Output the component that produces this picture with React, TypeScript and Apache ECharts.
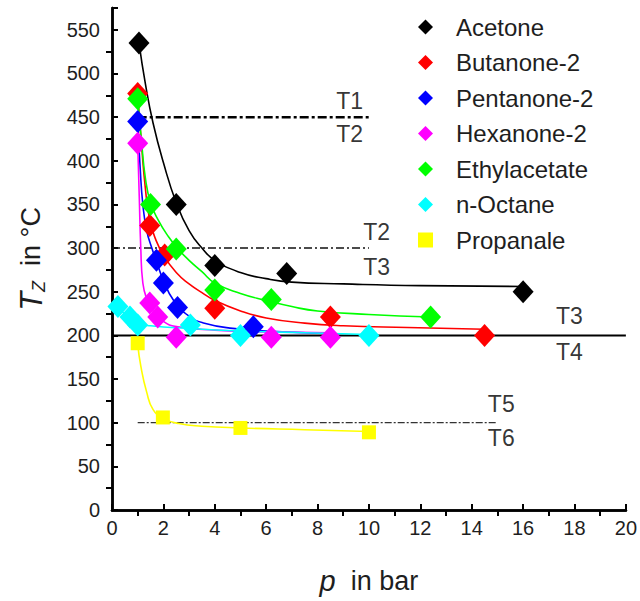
import React, { useEffect, useRef } from "react";
import * as echarts from "echarts";

// ---- axis ticks ----
const xTicksTop = [1, 3, 5, 7, 9, 11, 13, 15, 17, 19];
const yTicksRight = [25, 75, 125, 175, 225, 275, 325, 375, 425, 475, 525];

// ---- measured points [p in bar, Tz in °C] ----
const acetone = [[1.05, 535], [2.5, 350], [4.0, 280], [6.8, 271], [16.0, 250]];
const butanone = [[1.0, 477], [1.47, 326], [2.05, 292], [4.0, 231], [8.5, 221], [14.5, 200]];
const pentanone = [[1.0, 445], [1.73, 286], [2.0, 260], [2.55, 232], [5.5, 210]];
const hexanone = [[1.0, 420], [1.47, 237], [1.78, 221], [2.5, 198], [6.2, 198], [8.5, 198]];
const ethylacetate = [[1.0, 471], [1.5, 350], [2.5, 299], [4.0, 252], [6.2, 241], [12.4, 221]];
const octane = [[0.23, 233], [0.7, 221], [1.0, 212], [3.05, 212], [5.0, 200], [10.0, 200]];
const propanale = [[1.0, 191], [1.98, 106], [5.0, 94], [10.0, 89]];

// ---- fitted curves ----
const acetoneFit = [[1.05, 535], [1.3, 488], [1.6, 443], [2.0, 398], [2.5, 352], [3.0, 320], [3.5, 300], [4.0, 286], [5.0, 272], [6.0, 265], [7.0, 261], [9.0, 259], [12.0, 257], [16.0, 256]];
const butanoneFit = [[1.0, 475], [1.15, 418], [1.3, 368], [1.47, 332], [1.7, 310], [2.0, 292], [2.5, 272], [3.0, 259], [3.5, 249], [4.0, 240], [5.0, 228], [6.0, 220], [7.5, 214], [9.0, 211], [11.5, 209], [14.5, 207]];
const pentanoneFit = [[1.0, 446], [1.1, 390], [1.2, 350], [1.35, 320], [1.55, 300], [1.73, 285], [2.0, 263], [2.4, 240], [3.0, 222], [3.6, 214], [4.7, 208], [6.0, 205], [8.5, 202]];
const hexanoneFit = [[1.0, 420], [1.06, 360], [1.12, 300], [1.2, 260], [1.35, 242], [1.6, 228], [2.0, 216], [2.5, 210], [4.0, 206], [6.0, 204], [8.5, 203]];
const ethylacetateFit = [[1.0, 471], [1.15, 422], [1.3, 380], [1.5, 352], [1.8, 332], [2.2, 313], [2.6, 298], [3.0, 286], [3.5, 273], [4.0, 260], [5.0, 248], [6.0, 240], [7.0, 233], [8.0, 228], [10.0, 224], [12.4, 221]];
const octaneFit = [[0.23, 232], [0.6, 222], [1.0, 214], [1.5, 211], [3.0, 208], [5.0, 205], [7.5, 203], [10.0, 201]];
const propanaleFit = [[1.0, 190], [1.12, 165], [1.35, 135], [1.6, 115], [2.0, 105], [2.6, 99], [3.5, 96], [5.0, 94], [7.5, 92], [10.0, 90]];

// ---- temperature boundaries ----
const lineT1T2 = [[1, 450], [10, 450]];
const lineT2T3 = [[0, 300], [10, 300]];
const lineT3T4 = [[0, 200], [20, 200]];
const lineT5T6 = [[1, 100], [15, 100]];

const regionLabels = [
  { name: "T1", value: [9.25, 469] },
  { name: "T2", value: [9.25, 431] },
  { name: "T2", value: [10.3, 318] },
  { name: "T3", value: [10.3, 278] },
  { name: "T3", value: [17.8, 222] },
  { name: "T4", value: [17.8, 181] },
  { name: "T5", value: [15.15, 121] },
  { name: "T6", value: [15.15, 82] },
];

const FONT = "'Liberation Sans', Arial, Helvetica, sans-serif";
const TXT = "#1e1e1e";

const seriesDefs = [
  { name: "Acetone", color: "#000000", pts: acetone, fit: acetoneFit, symbol: "diamond" },
  { name: "Butanone-2", color: "#ff0000", pts: butanone, fit: butanoneFit, symbol: "diamond" },
  { name: "Pentanone-2", color: "#0000ff", pts: pentanone, fit: pentanoneFit, symbol: "diamond" },
  { name: "Hexanone-2", color: "#ff00ff", pts: hexanone, fit: hexanoneFit, symbol: "diamond" },
  { name: "Ethylacetate", color: "#00ff00", pts: ethylacetate, fit: ethylacetateFit, symbol: "diamond" },
  { name: "n-Octane", color: "#00ffff", pts: octane, fit: octaneFit, symbol: "diamond" },
  { name: "Propanale", color: "#ffff00", pts: propanale, fit: propanaleFit, symbol: "rect" },
];

function refLine(data: number[][], width: number, type: any, color: string) {
  return {
    type: "line",
    data,
    showSymbol: false,
    symbol: "none",
    silent: true,
    z: 1,
    lineStyle: { color, width, type },
  };
}

export default function App() {
  const ref = useRef<HTMLDivElement>(null);
  useEffect(() => {
    const chart = echarts.init(ref.current!, null, { renderer: "svg" });
    const series: any[] = [];
    series.push(refLine(lineT1T2, 2.5, [9, 3, 3, 3], "#000"));
    series.push(refLine(lineT2T3, 1.5, [8, 3, 2, 3], "#111"));
    series.push(refLine(lineT3T4, 2, "solid", "#000"));
    series.push(refLine(lineT5T6, 1.3, [7, 2, 2, 2], "#333"));
    seriesDefs.forEach((s) => {
      series.push({
        type: "line",
        name: s.name + " fit",
        data: s.fit,
        showSymbol: false,
        symbol: "none",
        smooth: 0.5,
        silent: true,
        z: 2,
        lineStyle: { color: s.color, width: 1.6 },
      });
    });
    seriesDefs.forEach((s) => {
      series.push({
        type: "scatter",
        name: s.name,
        data: s.pts,
        symbol: s.symbol,
        symbolSize: s.symbol === "rect" ? 14 : [21, 23],
        z: 3,
        itemStyle: { color: s.color, opacity: 1 },
      });
    });
    series.push({
      type: "scatter",
      name: "labels",
      data: regionLabels,
      symbolSize: 0,
      silent: true,
      z: 4,
      label: {
        show: true,
        position: "inside",
        formatter: "{b}",
        fontFamily: FONT,
        fontSize: 23,
        color: "#000",
      },
    });

    chart.setOption({
      animation: false,
      backgroundColor: "#fff",
      grid: { left: 112, right: 12, top: 8, bottom: 91 },
      legend: {
        data: seriesDefs.map((s) => s.name),
        orient: "vertical",
        left: 413,
        top: 10,
        itemWidth: 15,
        itemHeight: 15,
        itemGap: 11.5,
        formatter: (n: string) => `{g| }{t|${n}}`,
        textStyle: {
          fontFamily: FONT,
          fontSize: 24,
          color: TXT,
          rich: {
            g: { width: 18, fontSize: 24 },
            t: { fontFamily: FONT, fontSize: 24, color: TXT },
          },
        },
        selectedMode: false,
      },
      xAxis: [
        {
          type: "value",
          position: "bottom",
          min: 0,
          max: 20,
          interval: 2,
          axisLine: { show: true, lineStyle: { color: "#000", width: 2.5 } },
          axisTick: { show: true, inside: true, length: 6, lineStyle: { color: "#000", width: 2 } },
          axisLabel: { fontFamily: FONT, fontSize: 20, color: TXT, margin: 8 },
          splitLine: { show: false },
          name: "{i|p}{n|  in bar}",
          nameLocation: "middle",
          nameGap: 56,
          nameTextStyle: {
            rich: {
              i: { fontFamily: FONT, fontSize: 29, fontStyle: "italic", color: TXT },
              n: { fontFamily: FONT, fontSize: 27, color: TXT },
            },
          },
        },
        {
          type: "value",
          position: "top",
          min: 0,
          max: 20,
          interval: 2,
          axisLine: { show: true, lineStyle: { color: "#000", width: 2.5 } },
          axisTick: { show: true, inside: true, length: 6, customValues: xTicksTop, lineStyle: { color: "#000", width: 2 } },
          axisLabel: { show: false },
          splitLine: { show: false },
        },
      ],
      yAxis: [
        {
          type: "value",
          position: "left",
          min: 0,
          max: 575,
          interval: 50,
          axisLine: { show: true, lineStyle: { color: "#000", width: 2.5 } },
          axisTick: { show: true, inside: true, length: 6, lineStyle: { color: "#000", width: 2 } },
          axisLabel: {
            fontFamily: FONT,
            fontSize: 20,
            color: TXT,
            margin: 12,
            formatter: (v: number) => (v % 50 === 0 ? String(v) : ""),
          },
          splitLine: { show: false },
          name: "{t|T}{z|Z}{n|  in °C}",
          nameLocation: "middle",
          nameRotate: 90,
          nameGap: 64,
          nameTextStyle: {
            rich: {
              t: { fontFamily: FONT, fontSize: 31, fontStyle: "italic", color: TXT, lineHeight: 34, verticalAlign: "middle" },
              z: { fontFamily: FONT, fontSize: 18, fontStyle: "italic", color: TXT, lineHeight: 18, verticalAlign: "bottom" },
              n: { fontFamily: FONT, fontSize: 27, color: TXT, lineHeight: 34, verticalAlign: "middle" },
            },
          },
        },
        {
          type: "value",
          position: "right",
          min: 0,
          max: 575,
          interval: 50,
          axisLine: { show: true, lineStyle: { color: "#000", width: 2.5 } },
          axisTick: { show: true, inside: true, length: 6, customValues: yTicksRight, lineStyle: { color: "#000", width: 2 } },
          axisLabel: { show: false },
          splitLine: { show: false },
        },
      ],
      series,
    });
    return () => chart.dispose();
  }, []);
  return (
    <div
      ref={ref}
      style={{ position: "fixed", left: 0, top: 0, width: 640, height: 601, background: "#fff" }}
    />
  );
}
